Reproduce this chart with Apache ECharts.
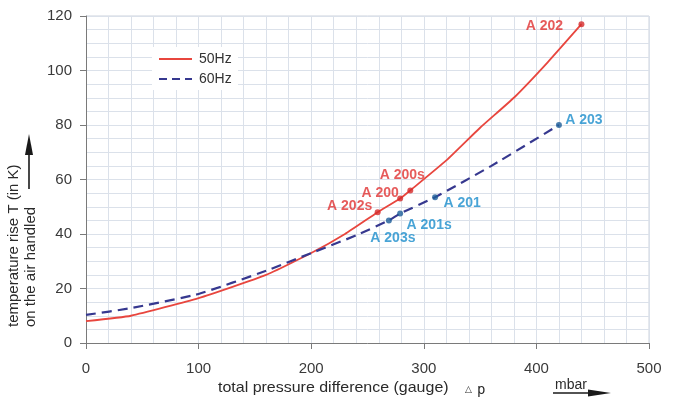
<!DOCTYPE html>
<html>
<head>
<meta charset="utf-8">
<script src="https://cdn.jsdelivr.net/npm/echarts@6/dist/echarts.min.js"></script>
<style>
html,body{margin:0;padding:0;background:#fff;}
#chart{width:677px;height:404px;}
</style>
</head>
<body>
<div id="chart"></div>
<script>
// ---- data ----
const seriesNames = ['50Hz', '60Hz'];
const curve50Hz = [[0,8],[40,10],[100,16.5],[160,25],[200,33],[230,40],[259,48],[279,53],[288,56],[320,67],[350,79],[380,90],[410,103],[440,117]];
const curve60Hz = [[0,10.3],[40,12.8],[100,18],[160,26.5],[200,33],[240,39.5],[269,45],[279,47.5],[310,53.5],[360,65],[420,80]];
const points50Names = ['A 202', 'A 200s', 'A 200', 'A 202s'];
const points50 = [[440,117],[288,56],[279,53],[259,48]];
const points60Names = ['A 203', 'A 201', 'A 201s', 'A 203s'];
const points60 = [[420,80],[310,53.5],[279,47.5],[269,45]];
const xTicks = [0, 100, 200, 300, 400, 500];
const yTicks = [0, 20, 40, 60, 80, 100, 120];

// ---- styles ----
const labelOffsets = {
  'A 202': [-37, 2], 'A 200s': [-8, -15], 'A 200': [-20, -5], 'A 202s': [-28, -6],
  'A 203': [25, -5], 'A 201': [27, 6], 'A 201s': [29, 12], 'A 203s': [4, 18]
};
const RED = '#e8463e', RED_DOT = '#d42b2b', RED_LABEL = '#e03232';
const NAVY = '#36388f', BLUE_DOT = '#1d5e98', BLUE_LABEL = '#1b8dcc';
const GRIDC = '#dbe1ea';
const FONT = '"Liberation Sans", Arial, sans-serif';
const RED_LINE = { color: RED, width: 1.8, type: 'solid' };
const NAVY_LINE = { color: NAVY, width: 2.2, type: [10, 6] };

function pointSeries(names, pts, dotColor, labelColor) {
  return {
    type: 'scatter',
    symbol: 'circle',
    symbolSize: 6,
    z: 5,
    itemStyle: { color: dotColor },
    data: pts.map((p, i) => ({
      name: names[i],
      value: p,
      label: { offset: labelOffsets[names[i]] }
    })),
    label: {
      show: true,
      position: 'inside',
      formatter: (d) => d.name,
      color: labelColor,
      fontFamily: FONT,
      fontWeight: 'bold',
      fontSize: 14
    },
    silent: true
  };
}

function legendItem(name, y, color, dash, width) {
  return [
    { type: 'line', z: 101, shape: { x1: 159, y1: y, x2: 192, y2: y },
      style: { stroke: color, lineWidth: width, lineDash: dash }, silent: true },
    { type: 'text', z: 101, x: 199, y: y,
      style: { text: name, align: 'left', verticalAlign: 'middle', font: '14px ' + FONT, fill: '#333' }, silent: true }
  ];
}

const chart = echarts.init(document.getElementById('chart'), null, { renderer: 'canvas' });
chart.setOption({
  backgroundColor: '#ffffff',
  animation: false,
  grid: { left: 86, right: 28, top: 16, bottom: 61, containLabel: false },
  xAxis: {
    type: 'value',
    min: xTicks[0], max: xTicks[xTicks.length - 1], interval: 100,
    axisLine: { show: true, lineStyle: { color: '#7a7a7a', width: 1 } },
    axisTick: { show: true, inside: false, length: 6, lineStyle: { color: '#7a7a7a' } },
    axisLabel: { margin: 18, fontFamily: FONT, fontSize: 15, color: '#3a3a3a' },
    splitLine: { show: true, lineStyle: { color: GRIDC, width: 1 } },
    minorTick: { show: false, splitNumber: 5 },
    minorSplitLine: { show: true, lineStyle: { color: GRIDC, width: 1 } }
  },
  yAxis: {
    type: 'value',
    min: yTicks[0], max: yTicks[yTicks.length - 1], interval: 20,
    axisLine: { show: true, lineStyle: { color: '#7a7a7a', width: 1 } },
    axisTick: { show: true, inside: false, length: 6, lineStyle: { color: '#7a7a7a' } },
    axisLabel: { margin: 14, fontFamily: FONT, fontSize: 15, color: '#3a3a3a' },
    splitLine: { show: true, lineStyle: { color: GRIDC, width: 1 } },
    minorTick: { show: false, splitNumber: 4 },
    minorSplitLine: { show: true, lineStyle: { color: GRIDC, width: 1 } }
  },
  series: [
    {
      name: seriesNames[0], type: 'line', data: curve50Hz,
      symbol: 'none', smooth: 0.15, z: 3,
      itemStyle: { color: RED },
      lineStyle: RED_LINE
    },
    {
      name: seriesNames[1], type: 'line', data: curve60Hz,
      symbol: 'none', smooth: 0.15, z: 3,
      itemStyle: { color: NAVY },
      lineStyle: NAVY_LINE
    },
    pointSeries(points50Names, points50, RED_DOT, RED_LABEL),
    pointSeries(points60Names, points60, BLUE_DOT, BLUE_LABEL)
  ],
  graphic: [
    // frame top / right
    { type: 'line', shape: { x1: 86, y1: 16, x2: 649, y2: 16 }, style: { stroke: '#cdd3dc', lineWidth: 1 }, silent: true },
    { type: 'line', shape: { x1: 649, y1: 16, x2: 649, y2: 343 }, style: { stroke: '#cdd3dc', lineWidth: 1 }, silent: true },
    // legend box
    { type: 'rect', z: 100, shape: { x: 152, y: 47, width: 86, height: 43 }, style: { fill: '#ffffff' }, silent: true },
    ...legendItem(seriesNames[0], 59, RED, null, 1.8),
    ...legendItem(seriesNames[1], 79, NAVY, [8, 5], 2.2),
    // y axis title
    { type: 'text', x: 14, y: 327, rotation: Math.PI / 2,
      style: { text: 'temperature rise T (in K)', align: 'left', verticalAlign: 'middle', font: '15px ' + FONT, fill: '#2a2a2a' } },
    { type: 'text', x: 31, y: 327, rotation: Math.PI / 2,
      style: { text: 'on the air handled', align: 'left', verticalAlign: 'middle', font: '15px ' + FONT, fill: '#2a2a2a' } },
    { type: 'line', shape: { x1: 29, y1: 189, x2: 29, y2: 150 }, style: { stroke: '#1a1a1a', lineWidth: 1.6 } },
    { type: 'polygon', shape: { points: [[29, 134], [25, 155], [33, 155]] }, style: { fill: '#1a1a1a' } },
    // x axis title
    { type: 'text', x: 218, y: 388, scaleX: 1.065,
      style: { text: 'total pressure difference (gauge)', align: 'left', verticalAlign: 'middle', font: '15px ' + FONT, fill: '#2a2a2a' } },
    { type: 'text', x: 465, y: 390,
      style: { text: '\u25B3', align: 'left', verticalAlign: 'middle', font: '9px "DejaVu Sans", sans-serif', fill: '#2a2a2a' } },
    { type: 'text', x: 477, y: 390,
      style: { text: 'p', align: 'left', verticalAlign: 'middle', font: '14px "DejaVu Sans Mono", monospace', fill: '#2a2a2a' } },
    // mbar arrow
    { type: 'text', x: 555, y: 385,
      style: { text: 'mbar', align: 'left', verticalAlign: 'middle', font: '14px ' + FONT, fill: '#2a2a2a' } },
    { type: 'line', shape: { x1: 553, y1: 393, x2: 595, y2: 393 }, style: { stroke: '#1a1a1a', lineWidth: 1.4 } },
    { type: 'polygon', shape: { points: [[611, 393], [588, 389.5], [588, 396.5]] }, style: { fill: '#1a1a1a' } }
  ]
});
</script>
</body>
</html>
